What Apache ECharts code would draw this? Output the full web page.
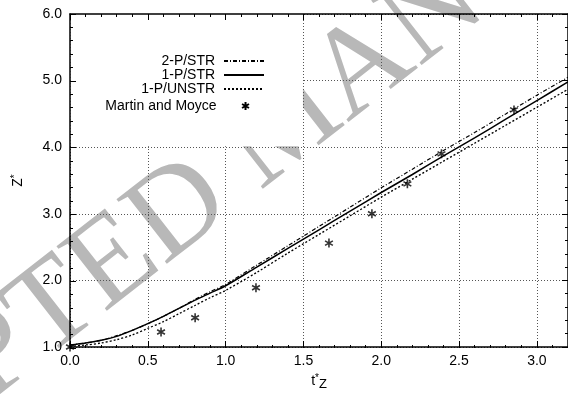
<!DOCTYPE html>
<html><head><meta charset="utf-8">
<script src="https://cdn.jsdelivr.net/npm/echarts@6/dist/echarts.min.js"></script>
<style>html,body{margin:0;padding:0;background:#fff}#c{width:568px;height:396px}</style>
</head><body><div id="c"></div>
<script>
// ---- data ----
const tLine = [0, 0.1, 0.2, 0.3, 0.4, 0.5, 0.6, 0.7, 0.8, 0.9, 1.0, 1.2, 1.4, 1.6, 1.8, 2.0, 2.2, 2.4, 2.6, 2.8, 3.0, 3.2];
const z2pSTR   = [1.03, 1.06, 1.10, 1.17, 1.25, 1.35, 1.46, 1.58, 1.71, 1.83, 1.94, 2.23, 2.52, 2.81, 3.10, 3.39, 3.67, 3.95, 4.22, 4.50, 4.78, 5.05];
const z1pSTR   = [1.03, 1.06, 1.10, 1.16, 1.25, 1.35, 1.46, 1.58, 1.70, 1.81, 1.92, 2.20, 2.48, 2.76, 3.04, 3.32, 3.59, 3.87, 4.14, 4.42, 4.70, 4.98];
const z1pUNSTR = [1.01, 1.03, 1.06, 1.11, 1.18, 1.28, 1.38, 1.50, 1.62, 1.74, 1.85, 2.12, 2.41, 2.69, 2.97, 3.25, 3.52, 3.79, 4.06, 4.33, 4.60, 4.87];
const tExp = [0, 0.585, 0.804, 1.195, 1.664, 1.94, 2.168, 2.387, 2.853];
const zExp = [1.0, 1.225, 1.44, 1.89, 2.56, 3.0, 3.45, 3.9, 4.56];
const seriesNames = ['2-P/STR', '1-P/STR', '1-P/UNSTR', 'Martin and Moyce'];
const xTicks = { min: 0, max: 3.2, major: 0.5, minor: 0.1 };
const yTicks = { min: 1, max: 6, major: 1 };
const legendBox = { x0: 0, x1: 1.5, y0: 4, y1: 6 };   // blank key area in data units
const xTitle = 't{sup|*}{sub|Z}';
const yTitle = 'Z{sup|*}';
const watermark = 'ACCEPTED MANUSCRIPT';

const pairs = (xs, ys) => xs.map((x, i) => [x, ys[i]]);
const FONT = '"Liberation Sans", Arial, sans-serif';
const starPath = 'path://M0,-1L0,1M-0.87,-0.5L0.87,0.5M-0.87,0.5L0.87,-0.5';

const chart = echarts.init(document.getElementById('c'), null, { renderer: 'canvas' });

const GRID = { left: 70, top: 14, right: -3.4, bottom: 48 };
const hidden = { axisLine: { show: false }, axisTick: { show: false }, axisLabel: { show: false }, splitLine: { show: false } };
const xA = (extra) => Object.assign({ type: 'value', min: xTicks.min, max: xTicks.max }, hidden, extra);
const yA = (extra) => Object.assign({ type: 'value', min: yTicks.min, max: yTicks.max, interval: yTicks.major }, hidden, extra);
const lineBlack = { show: true, onZero: false, lineStyle: { color: '#000', width: 1.5 } };
const tickMajor = { show: true, inside: true, length: 6, lineStyle: { color: '#000', width: 1 } };
const tickMinor = { show: true, inside: true, length: 3, lineStyle: { color: '#000', width: 1 } };
const minorY = { show: true, splitNumber: 5, length: 3, lineStyle: { color: '#000', width: 1 } };
const gridLine = { show: true, lineStyle: { color: '#555', width: 1, type: [1, 2] } };

const legendBase = (name, top, h, right) => ({
  data: [name], orient: 'vertical', right: right, top: top, padding: 0,
  align: 'right', itemWidth: 40, itemHeight: h, itemGap: 0,
  selectedMode: false,
  formatter: n => n + ' ',
  itemStyle: { opacity: h > 10 ? 0 : 1 },
  textStyle: { fontFamily: FONT, fontSize: 14, color: '#000' }
});

chart.setOption({
  backgroundColor: '#fff',
  animation: false,
  grid: [Object.assign({}, GRID), Object.assign({}, GRID)],
  legend: [
    legendBase(seriesNames[0], 54, 14, 303),
    legendBase(seriesNames[1], 68, 14, 303),
    legendBase(seriesNames[2], 82, 14, 303),
    legendBase(seriesNames[3], 99, 8, 318)
  ],
  xAxis: [
    // grid 0: bottom major axis with labels and grid lines
    xA({ gridIndex: 0, position: 'bottom', interval: xTicks.major,
      name: xTitle, nameLocation: 'middle', nameGap: 25,
      nameTextStyle: { fontFamily: FONT, fontSize: 14, color: '#000',
        rich: { sup: { fontFamily: FONT, fontSize: 10, color: '#000', padding: [0,0,6,0] },
                sub: { fontFamily: FONT, fontSize: 13, color: '#000', padding: [6,0,0,0] } } },
      axisLine: lineBlack, axisTick: tickMajor,
      axisLabel: { show: true, margin: 7, fontFamily: FONT, fontSize: 14, color: '#000', showMaxLabel: false,
        formatter: v => v.toFixed(1) },
      splitLine: gridLine }),
    // grid 0: top major axis
    xA({ gridIndex: 0, position: 'top', interval: xTicks.major, z: 10, axisLine: lineBlack, axisTick: tickMajor }),
    // grid 1: minor tick axes
    xA({ gridIndex: 1, position: 'bottom', interval: xTicks.minor, z: 10, axisTick: tickMinor }),
    xA({ gridIndex: 1, position: 'top', interval: xTicks.minor, z: 10, axisTick: tickMinor })
  ],
  yAxis: [
    yA({ gridIndex: 0, position: 'left',
      name: yTitle, nameLocation: 'middle', nameGap: 44, nameRotate: 90,
      nameTextStyle: { fontFamily: FONT, fontSize: 14, color: '#000',
        rich: { sup: { fontFamily: FONT, fontSize: 10, color: '#000', padding: [0,0,6,0] } } },
      axisLabel: { show: true, margin: 8, fontFamily: FONT, fontSize: 14, color: '#000',
        formatter: v => v.toFixed(1) },
      splitLine: gridLine }),
    yA({ gridIndex: 0, position: 'right', z: 10, axisLine: lineBlack, axisTick: tickMajor, minorTick: minorY }),
    yA({ gridIndex: 1, position: 'left', z: 10, axisLine: lineBlack, axisTick: tickMajor, minorTick: minorY })
  ],
  series: [
    {
      name: seriesNames[0], type: 'line', xAxisIndex: 0, yAxisIndex: 0,
      data: pairs(tLine, z2pSTR), symbol: 'none', smooth: 0.3, z: 3,
      lineStyle: { color: '#000', width: 1.2, type: [4, 2, 1, 2] }, itemStyle: { color: '#000' }
    },
    {
      name: seriesNames[1], type: 'line', xAxisIndex: 0, yAxisIndex: 0,
      data: pairs(tLine, z1pSTR), symbol: 'none', smooth: 0.3, z: 3,
      lineStyle: { color: '#000', width: 1.5, type: 'solid' }, itemStyle: { color: '#000' }
    },
    {
      name: seriesNames[2], type: 'line', xAxisIndex: 0, yAxisIndex: 0,
      data: pairs(tLine, z1pUNSTR), symbol: 'none', smooth: 0.3, z: 3,
      lineStyle: { color: '#000', width: 1.3, type: [2, 2] }, itemStyle: { color: '#000' }
    },
    {
      name: seriesNames[3], type: 'scatter', xAxisIndex: 0, yAxisIndex: 0,
      data: pairs(tExp, zExp), symbol: starPath, symbolSize: 9, symbolKeepAspect: true, z: 4,
      itemStyle: { color: 'rgba(0,0,0,0)', borderColor: '#000', borderWidth: 1.6 }
    }
  ]
});

// blank key area and watermark, positioned through the axes' own scale
const finder = { xAxisIndex: 0, yAxisIndex: 0 };
const pA = chart.convertToPixel(finder, [legendBox.x0, legendBox.y1]);
const pB = chart.convertToPixel(finder, [legendBox.x1, legendBox.y0]);
chart.setOption({
  graphic: [
    { type: 'text', id: 'wm', x: -294, y: 582, rotation: 0.663, z: -1, silent: true,
      style: { text: watermark, font: '125px "Liberation Serif", serif', fill: '#b8b8b8', align: 'left', verticalAlign: 'middle' } },
    { type: 'rect', id: 'keybox', z: 1, silent: true,
      shape: { x: pA[0] + 0.5, y: pA[1], width: pB[0] - pA[0] - 1, height: pB[1] - pA[1] - 1 },
      style: { fill: '#fff' } }
  ]
});
</script>
</body></html>
